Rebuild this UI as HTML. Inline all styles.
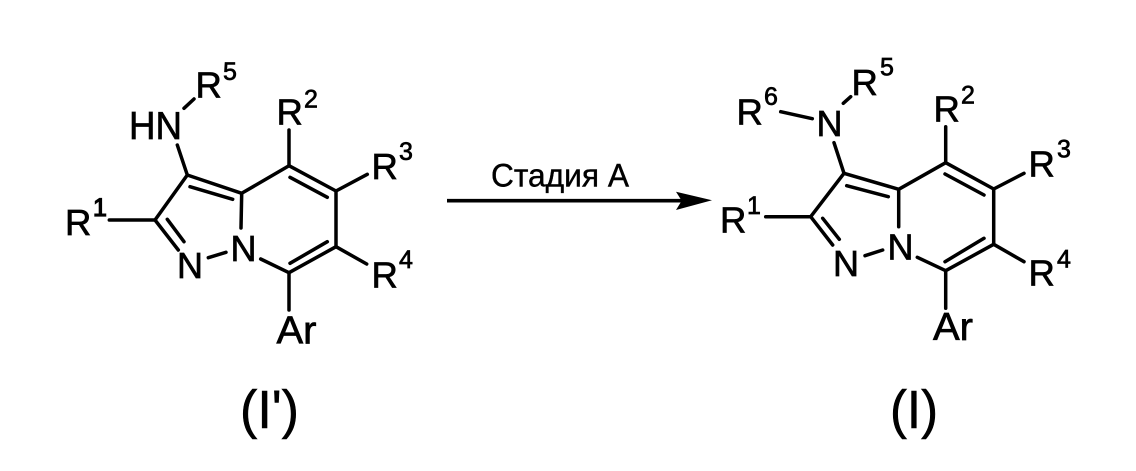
<!DOCTYPE html>
<html>
<head>
<meta charset="utf-8">
<style>
html,body{margin:0;padding:0;background:#fff;}
svg{display:block;}
text{font-family:"Liberation Sans",sans-serif;fill:#000;stroke:#000;stroke-width:.7px;}
.m{font-size:36.5px;}
.t{font-size:39px;}
.s{font-size:25px;}
line{stroke:#000;stroke-width:3.5;stroke-linecap:round;}
</style>
</head>
<body>
<svg width="1136" height="471" viewBox="0 0 1136 471" xmlns="http://www.w3.org/2000/svg">
<rect width="1136" height="471" fill="#fff"/>
<!-- Left molecule -->
<g>
<line x1="187.3" y1="175" x2="241.7" y2="193.3"/>
<line x1="241.7" y1="193.3" x2="289" y2="165.7"/>
<line x1="289" y1="165.7" x2="336" y2="191"/>
<line x1="336" y1="191" x2="336" y2="246.7"/>
<line x1="336" y1="246.7" x2="289" y2="272.7"/>
<line x1="289" y1="272.7" x2="260.7" y2="259"/>
<line x1="241.7" y1="193.3" x2="241" y2="228"/>
<line x1="187.3" y1="175" x2="155" y2="220"/>
<line x1="155" y1="220" x2="178.3" y2="250"/>
<line x1="190" y1="186.7" x2="232.7" y2="199.3"/>
<line x1="290" y1="177.3" x2="327.3" y2="197.3"/>
<line x1="290" y1="263.3" x2="327.3" y2="241.7"/>
<line x1="167.3" y1="219.3" x2="184" y2="241.7"/>
<line x1="208.3" y1="257.7" x2="226" y2="252.3"/>
<line x1="289" y1="165.7" x2="289" y2="130"/>
<line x1="336" y1="191" x2="367.3" y2="174.3"/>
<line x1="336" y1="246.7" x2="366.7" y2="264"/>
<line x1="289" y1="272.7" x2="289" y2="310"/>
<line x1="155" y1="220" x2="109.3" y2="220"/>
<line x1="187.3" y1="175" x2="177.3" y2="145"/>
<line x1="184" y1="108.3" x2="194" y2="99"/>
<text class="t" x="129" y="139" textLength="53" lengthAdjust="spacingAndGlyphs">HN</text>
<text class="m" x="195.5" y="97.3">R</text><text class="s" x="223" y="80">5</text>
<text class="m" x="276.5" y="124.3">R</text><text class="s" x="304" y="107.7">2</text>
<text class="m" x="371.5" y="179">R</text><text class="s" x="399" y="160">3</text>
<text class="m" x="371.5" y="287.3">R</text><text class="s" x="399" y="268">4</text>
<text class="m" x="65" y="235">R</text><text class="s" x="93" y="216" style="stroke-width:1.2px">1</text>
<text class="m" x="177" y="278" textLength="26" lengthAdjust="spacingAndGlyphs">N</text>
<text class="m" x="230.5" y="261" textLength="26" lengthAdjust="spacingAndGlyphs">N</text>
<text class="t" x="276.5" y="343.3" textLength="40" lengthAdjust="spacingAndGlyphs">Ar</text>
</g>
<!-- Right molecule -->
<g>
<line x1="844" y1="173.3" x2="898.7" y2="189.3"/>
<line x1="898.7" y1="189.3" x2="945.7" y2="162.7"/>
<line x1="945.7" y1="162.7" x2="993.7" y2="189"/>
<line x1="993.7" y1="189" x2="993.7" y2="244.3"/>
<line x1="993.7" y1="244.3" x2="945.7" y2="270.7"/>
<line x1="945.7" y1="270.7" x2="917.3" y2="257.3"/>
<line x1="898.7" y1="189.3" x2="898.7" y2="226.7"/>
<line x1="844" y1="173.3" x2="810.7" y2="216.7"/>
<line x1="810.7" y1="216.7" x2="832.7" y2="245"/>
<line x1="846.7" y1="185.7" x2="888.3" y2="196.7"/>
<line x1="945" y1="174" x2="984" y2="195"/>
<line x1="945" y1="261.7" x2="984" y2="238.3"/>
<line x1="822.7" y1="218.3" x2="839.3" y2="239.3"/>
<line x1="865" y1="255.7" x2="882.7" y2="250"/>
<line x1="945.7" y1="162.7" x2="945.7" y2="126.7"/>
<line x1="993.7" y1="189" x2="1024" y2="173.3"/>
<line x1="993.7" y1="244.3" x2="1024" y2="261.7"/>
<line x1="945.7" y1="270.7" x2="945.7" y2="308.3"/>
<line x1="810.7" y1="216.7" x2="765.7" y2="216.7"/>
<line x1="844" y1="173.3" x2="834" y2="142.7"/>
<line x1="843.3" y1="103.3" x2="850.7" y2="96.7"/>
<line x1="780.7" y1="111.7" x2="812.3" y2="118.7"/>
<text class="m" x="736.5" y="124.3">R</text><text class="s" x="764" y="105">6</text>
<text class="m" x="816.5" y="136" textLength="26" lengthAdjust="spacingAndGlyphs">N</text>
<text class="m" x="851.5" y="95">R</text><text class="s" x="880" y="75.7">5</text>
<text class="m" x="933.5" y="121.7">R</text><text class="s" x="961" y="103.3">2</text>
<text class="m" x="1028.5" y="176.7">R</text><text class="s" x="1057" y="157.3">3</text>
<text class="m" x="1028.5" y="285.7">R</text><text class="s" x="1057" y="267.3">4</text>
<text class="m" x="720" y="232.3">R</text><text class="s" x="747" y="214">1</text>
<text class="m" x="833" y="276" textLength="26" lengthAdjust="spacingAndGlyphs">N</text>
<text class="m" x="887.5" y="259.3" textLength="26" lengthAdjust="spacingAndGlyphs">N</text>
<text class="t" x="933" y="340" textLength="40" lengthAdjust="spacingAndGlyphs">Ar</text>
</g>
<!-- Arrow -->
<line x1="447" y1="200.7" x2="684" y2="200.7" style="stroke-width:3.6;stroke-linecap:butt"/>
<polygon points="676,191.7 712,200.3 676,210 681.7,200.7" fill="#000"/>
<text x="491" y="186.5" style="font-size:32px;stroke-width:.4px" textLength="138" lengthAdjust="spacingAndGlyphs">Стадия А</text>
<!-- Labels -->
<text x="240" y="428" style="font-size:54px;stroke-width:.6px" textLength="59" lengthAdjust="spacingAndGlyphs">(I')</text>
<text x="890" y="428" style="font-size:54px;stroke-width:.6px" textLength="48" lengthAdjust="spacingAndGlyphs">(I)</text>
</svg>
</body>
</html>
